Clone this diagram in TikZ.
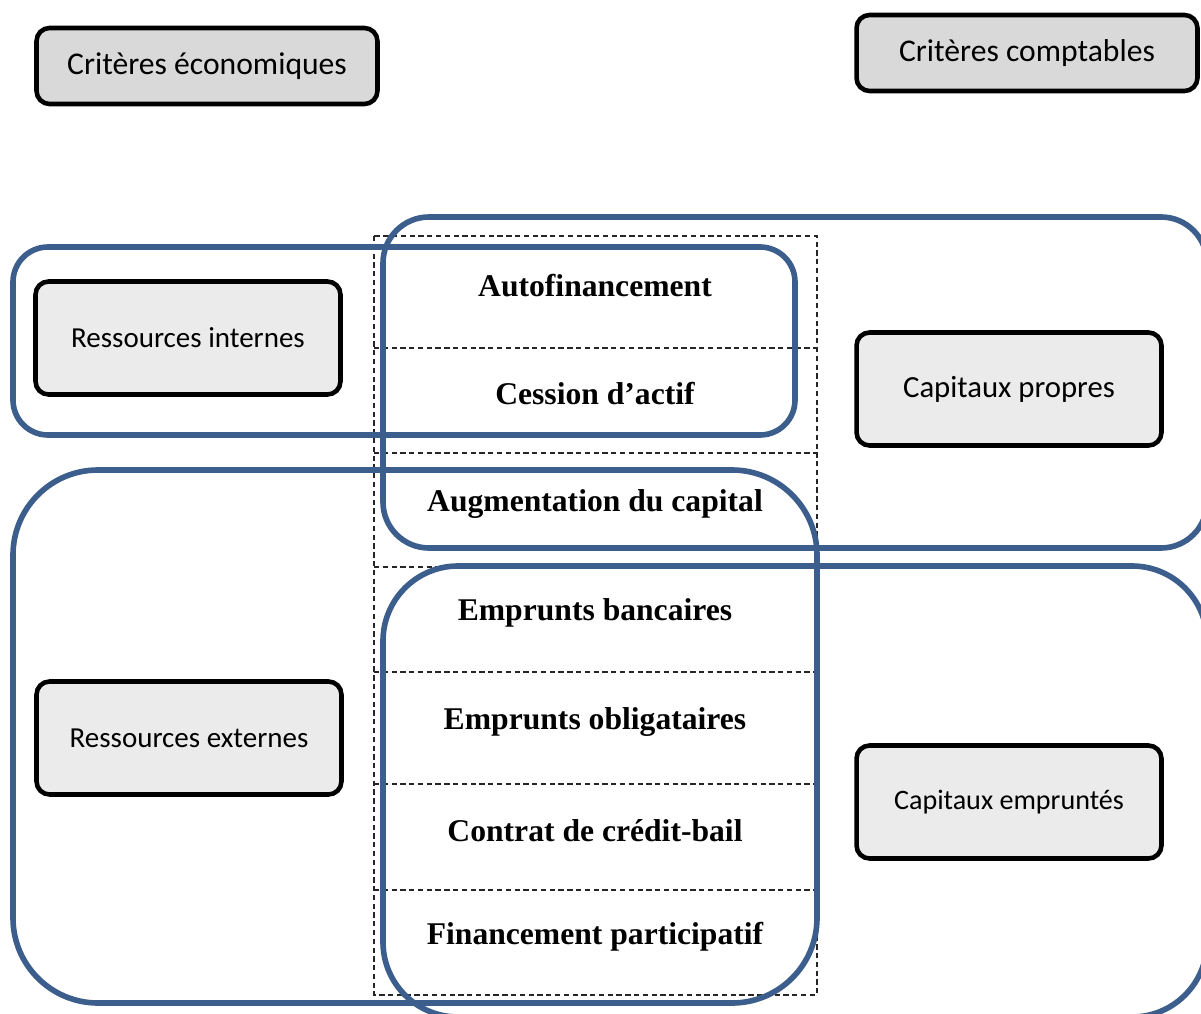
\documentclass[tikz,border=0pt]{standalone}
\usepackage{fontspec}
\setmainfont{Liberation Serif}
\newfontfamily\calibri{Carlito}
\usepackage{tikz}
\definecolor{groupblue}{HTML}{3C5E8C}
\definecolor{boxgrey}{HTML}{EBEBEB}
\definecolor{headgrey}{HTML}{D9D9D9}
\tikzset{critbox/.style={draw,line width=2.6pt,rounded corners=0.26cm,fill=boxgrey,minimum width=6.1cm,minimum height=2.26cm,font=\calibri\fontsize{16.5}{18}\selectfont}}
\tikzset{headbox/.style={critbox,fill=headgrey,minimum width=6.82cm,minimum height=1.52cm,font=\calibri\fontsize{18}{20}\selectfont}}
\tikzset{cell/.style={font=\bfseries\fontsize{18}{20}\selectfont}}
\tikzset{group/.style={draw=groupblue,line width=3.2pt}}
\tikzset{rowline/.style={densely dashed,line width=0.6pt,draw=black!85}}

\begin{document}
\begin{tikzpicture}[x=0.02cm,y=-0.02cm]
  \useasboundingbox (0,0) rectangle (1201,1014);
  \clip (0,0) rectangle (1201,1014);
  \draw[rowline] (374,236) rectangle (817,995);
  \foreach \y in {348,453,567,672,784,890}
    \draw[rowline] (374,\y) -- (817,\y);
  \node[cell] (autofin) at (595,286) {Autofinancement};
  \node[cell] (cession) at (595,394) {Cession d’actif};
  \node[cell] (augment) at (595,504) {Augmentation du capital};
  \node[cell] (bancaires) at (595,613) {Emprunts bancaires};
  \node[cell] (obligataires) at (595,722) {Emprunts obligataires};
  \node[cell] (creditbail) at (595,831) {Contrat de crédit-bail};
  \node[cell] (participatif) at (595,937) {Financement participatif};
  \draw[group,rounded corners=0.92cm] (383,217) rectangle (1207,548);
  \draw[group,rounded corners=1.5cm] (383,566) rectangle (1207,1017);
  \draw[group,rounded corners=0.7cm] (13,247) rectangle (795,435);
  \draw[group,rounded corners=1.7cm] (13,470) rectangle (817,1003);
  \node[headbox] (eco) at (207,66) {Critères économiques};
  \node[headbox] (compta) at (1027,53) {Critères comptables};
  \node[critbox] (internes) at (188,338) {Ressources internes};
  \node[critbox] (externes) at (189,738) {Ressources externes};
  \node[critbox,font=\calibri\fontsize{17.5}{19}\selectfont] (propres) at (1009,389) {Capitaux propres};
  \node[critbox,font=\calibri\fontsize{16}{18}\selectfont] (empruntes) at (1009,802) {Capitaux empruntés};
\end{tikzpicture}
\end{document}
